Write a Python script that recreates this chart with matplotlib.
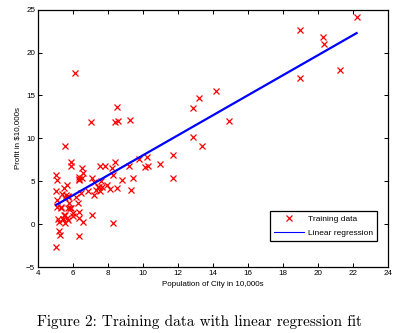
import matplotlib
matplotlib.use("Agg")
import matplotlib.pyplot as plt

# Population of city (10,000s) and profit ($10,000s)
population = [6.1101, 5.5277, 8.5186, 7.0032, 5.8598, 8.3829, 7.4764, 8.5781, 6.4862, 5.0546,
              5.7107, 14.164, 5.734, 8.4084, 5.6407, 5.3794, 6.3654, 5.1301, 6.4296, 7.0708,
              6.1891, 20.27, 5.4901, 6.3261, 5.5649, 18.945, 12.828, 10.957, 13.176, 22.203,
              5.2524, 6.5894, 9.2482, 5.8918, 8.2111, 7.9334, 8.0959, 5.6063, 12.836, 6.3534,
              5.4069, 6.8825, 11.708, 5.7737, 7.8247, 7.0931, 5.0702, 5.8014, 11.7, 5.5416,
              7.5402, 5.3077, 7.4239, 7.6031, 6.3328, 6.3589, 6.2742, 5.6397, 9.3102, 9.4536,
              8.8254, 5.1793, 21.279, 14.908, 18.959, 7.2182, 8.2951, 10.236, 5.4994, 20.341,
              10.136, 7.3345, 6.0062, 7.2259, 5.0269, 6.5479, 7.5386, 5.0365, 10.274, 5.1077,
              5.7292, 5.1884, 6.3557, 9.7687, 6.5159, 8.5172, 9.1802, 6.002, 5.5204, 5.0594,
              5.7077, 7.6366, 5.8707, 5.3054, 8.2934, 13.394, 5.4369]
profit = [17.592, 9.1302, 13.662, 11.854, 6.8233, 11.886, 4.3483, 12.0, 6.5987, 3.8166,
          3.2522, 15.505, 3.1551, 7.2258, 0.71618, 3.5129, 5.3048, 0.56077, 3.6518, 5.3893,
          3.1386, 21.767, 4.263, 5.1875, 3.0825, 22.638, 13.501, 7.0467, 14.692, 24.147,
          -1.22, 5.9966, 12.134, 1.8495, 6.5426, 4.5623, 4.1164, 3.3928, 10.117, 5.4974,
          0.55657, 3.9115, 5.3854, 2.4406, 6.7318, 1.0463, 5.1337, 1.844, 8.0043, 1.0179,
          6.7504, 1.8396, 4.2885, 4.9981, 1.4233, -1.4211, 2.4756, 4.6042, 3.9624, 5.4141,
          5.1694, -0.74279, 17.929, 12.054, 17.054, 4.8852, 5.7442, 7.7754, 1.0173, 20.992,
          6.6799, 4.0259, 1.2784, 3.3411, -2.6807, 0.29678, 3.8845, 5.7014, 6.7526, 2.0576,
          0.47953, 0.20421, 0.67861, 7.5435, 5.3436, 4.2415, 6.7981, 0.92695, 0.152, 2.8214,
          1.8451, 4.2959, 7.2029, 1.9869, 0.14454, 9.0551, 0.61705]

# fitted line end points
fit_x = [5.0269, 22.203]
fit_y = [2.2332, 22.267]

xticks = [4, 6, 8, 10, 12, 14, 16, 18, 20, 22, 24]
yticks = [-5, 0, 5, 10, 15, 20, 25]

plt.rcParams['font.family'] = ['Liberation Sans', 'DejaVu Sans']

fig = plt.figure(figsize=(3.98, 3.33), dpi=100)
ax = fig.add_axes([0.0955, 0.198, 0.8795, 0.773])

ax.plot(population, profit, 'rx', markersize=4, markeredgewidth=0.9, label='Training data')
line, = ax.plot(fit_x, fit_y, '-', color='#0000ff', linewidth=1.6, label='Linear regression')

ax.set_xlim(4, 24)
ax.set_ylim(-5, 25)
ax.set_xticks(xticks)
ax.set_yticks(yticks)
ax.tick_params(direction='in', labelsize=5.8, length=3, width=0.7, top=True, right=True, pad=2)
for s in ax.spines.values():
    s.set_linewidth(0.9)

ax.set_xlabel('Population of City in 10,000s', fontsize=5.8, labelpad=3)
ax.set_ylabel('Profit in $10,000s', fontsize=5.8, labelpad=4)

leg = ax.legend(loc='lower right', bbox_to_anchor=(0.968, 0.1), fontsize=6, fancybox=False,
                edgecolor='black', framealpha=1, borderpad=0.5, labelspacing=0.75,
                handlelength=3.6, handletextpad=0.4, borderaxespad=0)
leg.get_frame().set_linewidth(0.9)
leg.get_lines()[1].set_linewidth(0.8)

fig.text(0.5, 0.033, 'Figure 2: Training data with linear regression fit',
         ha='center', va='center', fontsize=11, family=['cmr10', 'DejaVu Serif'])

fig.savefig('out.png', dpi=100)
